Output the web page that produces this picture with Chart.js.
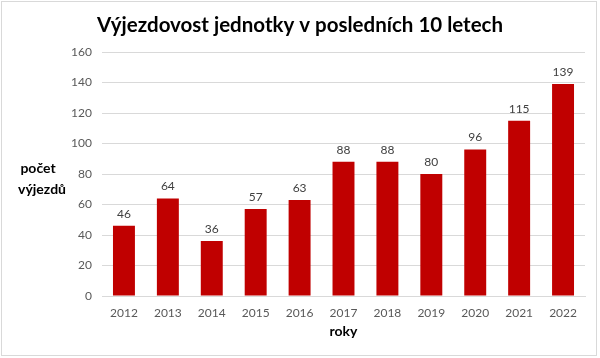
<!DOCTYPE html>
<html><head><meta charset="utf-8">
<script src="https://cdn.jsdelivr.net/npm/chart.js@4"></script>
<style>html,body{margin:0;padding:0;background:#fff}#wrap{position:relative;width:600px;height:358px}</style>
</head><body><div id="wrap"><canvas id="c" width="600" height="358"></canvas></div>
<script>
const categories = ["2012","2013","2014","2015","2016","2017","2018","2019","2020","2021","2022"];
const values = [46,64,36,57,63,88,88,80,96,115,139];
const yTicks = [0,20,40,60,80,100,120,140,160];
const titleText = "Výjezdovost jednotky v posledních 10 letech";
const yTitle = ["počet","výjezdů"];
const xTitle = "roky";
const FONT = "Lato, 'Open Sans', sans-serif";

const deco = {
  id:'deco',
  beforeDraw(chart){
    const c = chart.ctx;
    c.save();
    c.fillStyle='#fff'; c.fillRect(0,0,600,358);
    c.strokeStyle='#d9d9d9'; c.lineWidth=1;
    c.strokeRect(1.5,1.5,595,354);
    c.restore();
  },
  afterDraw(chart){
    const c = chart.ctx; const ca = chart.chartArea;
    c.save();
    c.textAlign='center'; c.textBaseline='middle';
    c.fillStyle='#000';
    c.font = "bold 20.5px "+FONT;
    c.fillText(titleText, 300, 25);
    c.font = "bold 14px "+FONT;
    c.fillText(yTitle[0], 38, 168);
    c.fillText(yTitle[1], 42, 189);
    c.fillText(xTitle, (ca.left+ca.right)/2, 331);
    c.font = "12px "+FONT;
    c.fillStyle='#404040';
    const meta = chart.getDatasetMeta(0);
    meta.data.forEach((bar,i)=>{
      c.fillText(String(values[i]), bar.x, bar.y-12);
    });
    c.restore();
  }
};

new Chart(document.getElementById('c'), {
  type:'bar',
  data:{labels:categories, datasets:[{data:values, backgroundColor:'#C00000', borderWidth:0, barPercentage:0.5, categoryPercentage:1.0}]},
  options:{
    responsive:false, animation:false, devicePixelRatio:1,
    layout:{padding:{left:62, right:15, top:52, bottom:0}},
    plugins:{legend:{display:false}, title:{display:false}, tooltip:{enabled:false}},
    scales:{
      x:{
        grid:{display:false, drawTicks:false},
        border:{display:true, color:'#d9d9d9'},
        ticks:{color:'#595959', font:{family:FONT, size:12}, padding:10, maxRotation:0},
        afterFit(s){ s.height = 62; }
      },
      y:{
        min:0, max:160,
        afterBuildTicks(s){ s.ticks = yTicks.map(v=>({value:v})); },
        grid:{color:'#d9d9d9', drawTicks:false},
        border:{display:false},
        ticks:{color:'#595959', font:{family:FONT, size:12}, padding:10},
        afterFit(s){ s.width = 40; }
      }
    }
  },
  plugins:[deco]
});
</script></body></html>
